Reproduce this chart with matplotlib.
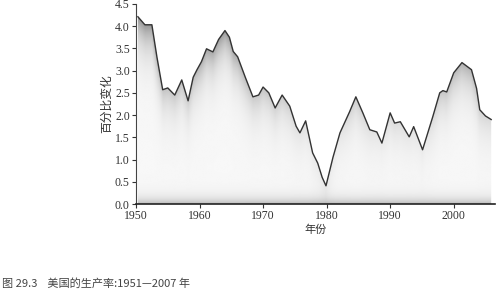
import numpy as np
import matplotlib
matplotlib.use("Agg")
import matplotlib.pyplot as plt
from matplotlib.colors import LinearSegmentedColormap

# 年份与生产率变化
years = [1950.3, 1951.4, 1952.5, 1953.3, 1954.2, 1955.0, 1956.1, 1957.2, 1958.2,
         1959.0, 1959.6, 1960.3, 1961.1, 1962.1, 1963.0, 1964.0, 1964.7, 1965.3,
         1966.0, 1967.2, 1968.4, 1969.3, 1970.0, 1970.9, 1971.9, 1973.0, 1974.2,
         1975.2, 1975.8, 1976.7, 1977.8, 1978.6, 1979.3, 1979.9, 1981.0, 1982.1,
         1983.6, 1984.6, 1985.7, 1986.8, 1987.9, 1988.7, 1990.0, 1990.7, 1991.6,
         1993.0, 1993.7, 1995.1, 1996.7, 1997.8, 1998.3, 1998.9, 2000.0, 2001.3,
         2002.8, 2003.6, 2004.1, 2005.0, 2005.9]
values = [4.21, 4.03, 4.03, 3.30, 2.57, 2.61, 2.45, 2.79, 2.32,
          2.85, 3.02, 3.20, 3.49, 3.42, 3.70, 3.90, 3.75, 3.43,
          3.31, 2.85, 2.41, 2.45, 2.63, 2.50, 2.16, 2.45, 2.20,
          1.75, 1.60, 1.87, 1.15, 0.92, 0.60, 0.41, 1.05, 1.60,
          2.07, 2.41, 2.05, 1.67, 1.62, 1.37, 2.05, 1.82, 1.85,
          1.51, 1.74, 1.22, 1.96, 2.50, 2.55, 2.52, 2.95, 3.18,
          3.02, 2.60, 2.12, 1.98, 1.90]

xticks = [1950, 1960, 1970, 1980, 1990, 2000]
yticks = [0.0, 0.5, 1.0, 1.5, 2.0, 2.5, 3.0, 3.5, 4.0, 4.5]

cjk = ["Noto Sans CJK SC", "DejaVu Sans"]

fig = plt.figure(figsize=(5.0, 2.97), dpi=100)
ax = fig.add_axes([0.272, 0.313, 0.718, 0.674])

x = np.array(years)
y = np.array(values)

# 曲线下方的灰色渐变
gx = np.linspace(1950, 2006.5, 600)
gy = np.linspace(0, 4.5, 300)
X, Y = np.meshgrid(gx, gy)
top = np.interp(X, x, y)
d = np.clip(top - Y, 0, None)
shade = 0.40 * np.exp(-d / 0.45) * np.clip((top - 1.0) / 3.0, 0.15, 1) + 0.24 * np.exp(-Y / 0.12) + 0.03
shade = np.clip(shade, 0, 0.55)
cmap = LinearSegmentedColormap.from_list("g", ["white", "black"])
im = ax.imshow(shade, extent=(1950, 2006.5, 0, 4.5), origin="lower", aspect="auto",
               cmap=cmap, vmin=0, vmax=1, zorder=1)
poly = ax.fill_between(x, 0, y, color="none", lw=0)
clip = poly.get_paths()[0]
im.set_clip_path(clip, transform=ax.transData)

ax.plot(x, y, color="#333333", lw=1.0, zorder=3)

ax.set_xlim(1950, 2006.5)
ax.set_ylim(0, 4.5)
ax.set_xticks(xticks)
ax.set_yticks(yticks)
ax.set_yticklabels([f"{v:.1f}" for v in yticks])
for lab in ax.get_xticklabels() + ax.get_yticklabels():
    lab.set_family("Liberation Serif")
    lab.set_fontsize(8.5)
    lab.set_color("#333333")
ax.tick_params(direction="out", length=3, width=0.8, colors="#333333", pad=1.5)

ax.spines["top"].set_visible(False)
ax.spines["right"].set_visible(False)
ax.spines["left"].set_color("#444444")
ax.spines["left"].set_linewidth(0.8)
ax.spines["bottom"].set_color("#222222")
ax.spines["bottom"].set_linewidth(1.2)

ax.set_ylabel("百分比变化", family=cjk, fontsize=8.5, color="#333333", labelpad=1)
ax.set_xlabel("年份", family=cjk, fontsize=8, color="#333333", labelpad=2)

fig.text(0.004, 0.035, "图 29.3    美国的生产率:1951—2007 年", family=cjk,
         fontsize=8, color="#444444")

plt.savefig("out.png", dpi=100)
